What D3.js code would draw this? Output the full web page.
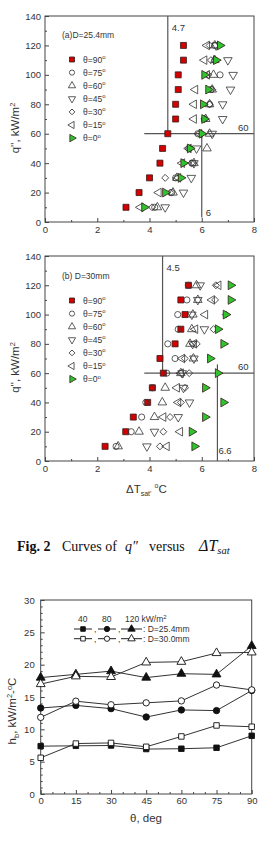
<!DOCTYPE html>
<html>
<head>
<meta charset="utf-8">
<script src="https://cdn.jsdelivr.net/npm/d3@7"></script>
<style>
body{margin:0;background:#fff}
svg{display:block}
text{font-family:"Liberation Sans",Arial,sans-serif;fill:#333}
.cap text, text.cap{font-family:"Liberation Serif","Times New Roman",serif;fill:#111}
</style>
</head>
<body>
<svg id="fig" width="259" height="843"></svg>
<script>
// heat flux levels q'' (kW/m2), same for both panels
var qFlux = [10,20,30,40,50,60,70,80,90,100,110,120];
var angleNames = ["90","75","60","45","30","15","0"];

// (a) D=25.4mm : wall superheat dT_sat (C) at each q'', one list per angle
var dTa_90 = [3.1,3.6,4.0,4.4,4.5,4.7,5.0,5.0,5.1,5.1,5.3,5.3];
var dTa_75 = [4.2,4.85,5.0,5.65,5.5,5.85,6.1,6.3,6.35,6.7,6.5,6.5];
var dTa_60 = [4.3,4.9,5.05,5.7,6.2,6.3,6.15,6.3,6.4,6.45,6.5,6.5];
var dTa_45 = [4.6,5.3,5.6,5.7,5.8,6.4,6.8,6.8,7.1,7.2,7.0,6.55];
var dTa_30 = [4.1,4.8,4.6,5.6,5.55,6.0,6.1,6.3,6.4,6.25,6.35,6.3];
var dTa_15 = [3.65,4.35,5.1,5.25,5.5,5.9,5.7,5.7,5.75,6.2,6.1,6.2];
var dTa_0  = [3.8,4.6,5.2,5.3,5.55,6.0,6.1,6.05,6.25,6.1,6.55,6.7];

// (b) D=30mm
var dTb_90 = [2.3,3.09,3.38,3.93,4.11,4.53,4.4,4.98,5.2,5.36,5.2,5.49];
var dTb_75 = [2.72,3.3,3.7,3.86,4.11,4.66,4.98,4.7,5.1,5.08,5.43,5.49];
var dTb_60 = [2.8,3.6,4.19,4.49,4.6,5.2,5.68,5.55,5.62,5.66,5.85,5.8];
var dTb_45 = [3.9,4.19,5.1,5.53,5.3,5.25,5.7,5.65,6.1,5.62,5.85,5.94];
var dTb_30 = [4.4,4.53,4.79,5.2,5.36,5.52,5.35,5.81,6.45,6.92,6.51,6.54];
var dTb_15 = [4.66,5.17,4.53,5.1,5.05,5.2,5.25,5.7,5.75,6.13,6.39,6.64];
var dTb_0  = [5.72,5.62,6.13,6.83,6.13,6.62,6.32,6.83,6.62,6.92,7.11,7.11];

// bottom: boiling coefficient h_b (kW/m2 C) vs inclination angle
var thetaDeg = [0,15,30,45,60,75,90];
var hb_40_254  = [7.4,7.45,7.5,6.95,7.0,7.15,9.0];
var hb_40_300  = [5.6,7.8,7.9,7.3,8.9,10.6,10.4];
var hb_80_254  = [13.3,13.7,13.2,11.9,13.0,12.9,16.0];
var hb_80_300  = [11.85,14.35,13.8,14.1,14.4,16.85,16.1];
var hb_120_254 = [18.0,18.5,19.0,18.0,18.6,18.5,22.9];
var hb_120_300 = [17.0,18.2,18.1,20.35,20.45,21.8,21.9];

var dtTicks = [0,2,4,6,8];
var qTicks = [0,20,40,60,80,100,120,140];
var thetaTicks = [0,15,30,45,60,75,90];
var hTicks = [0,5,10,15,20,25,30];

var svg = d3.select("#fig");
var RED = "#d40000", GREEN = "#2ec42e", INK = "#333";

// marker look per angle, same order as angleNames
var angleMarks = [
  {kind:"square", rot:0, fill:RED, size:36},
  {kind:"circle", rot:0, fill:"none", size:30},
  {kind:"tri", rot:0, fill:"none", size:32},
  {kind:"tri", rot:180, fill:"none", size:32},
  {kind:"square", rot:45, fill:"none", size:24},
  {kind:"tri", rot:-90, fill:"none", size:32},
  {kind:"tri", rot:90, fill:GREEN, size:34}
];

function symPath(kind, size){
  var t = kind=="circle" ? d3.symbolCircle : kind=="tri" ? d3.symbolTriangle : d3.symbolSquare;
  return d3.symbol().type(t).size(size)();
}

function styleAxis(ax){
  ax.select(".domain").remove();
  ax.selectAll(".tick line").attr("stroke","#444");
  ax.selectAll("text").attr("fill",INK).style("font-size","9.5px").attr("font-family",null);
}

function frame(x, y){
  svg.append("rect")
    .attr("x",x.range()[0]).attr("y",y.range()[1])
    .attr("width",x.range()[1]-x.range()[0]).attr("height",y.range()[0]-y.range()[1])
    .attr("fill","none").attr("stroke","#444").attr("stroke-width",1);
}

function qPanel(top, bottom, series, title, refs, legY){
  var x = d3.scaleLinear().domain([0,8]).range([45,254]);
  var y = d3.scaleLinear().domain([0,140]).range([bottom,top]);

  // minor ticks
  svg.append("g").attr("transform","translate(0,"+bottom+")")
    .call(d3.axisBottom(x).tickValues([1,3,5,7]).tickSize(-2).tickSizeOuter(0).tickFormat(""))
    .call(styleAxis);
  svg.append("g").attr("transform","translate(45,0)")
    .call(d3.axisLeft(y).tickValues(d3.range(10,140,20)).tickSize(-2).tickSizeOuter(0).tickFormat(""))
    .call(styleAxis);
  svg.append("g").attr("transform","translate(0,"+bottom+")")
    .call(d3.axisBottom(x).tickValues(dtTicks).tickSize(-4).tickSizeOuter(0).tickPadding(4))
    .call(styleAxis);
  svg.append("g").attr("transform","translate(45,0)")
    .call(d3.axisLeft(y).tickValues(qTicks).tickSize(-4).tickSizeOuter(0).tickPadding(4))
    .call(styleAxis);
  frame(x, y);

  // guide lines
  var ref = svg.append("g").attr("stroke","#555").attr("stroke-width",1.2);
  ref.append("line").attr("x1",x(refs.v1)).attr("x2",x(refs.v1)).attr("y1",y(140)).attr("y2",y(60));
  ref.append("line").attr("x1",x(3.8)).attr("x2",x(8)).attr("y1",y(60)).attr("y2",y(60));
  ref.append("line").attr("x1",x(refs.v2)).attr("x2",x(refs.v2)).attr("y1",y(refs.v2Top)).attr("y2",y(refs.v2Bot));
  var lab = svg.append("g").style("font-size","9.5px");
  lab.append("text").attr("x",x(refs.v1)+4).attr("y",y(140)+15).text(refs.v1);
  lab.append("text").attr("x",x(8)-16).attr("y",y(60)-3).text("60");
  lab.append("text").attr("x",x(refs.v2)+refs.v2dx).attr("y",refs.v2LabY).text(refs.v2);

  // data
  series.forEach(function(vals, k){
    var m = angleMarks[k];
    svg.append("g").selectAll("path").data(vals).join("path")
      .attr("d", symPath(m.kind, m.size))
      .attr("transform", function(d,i){ return "translate("+x(d)+","+y(qFlux[i])+") rotate("+m.rot+")"; })
      .attr("fill", m.fill).attr("stroke", m.fill=="none" ? "#333" : "#3a1a1a")
      .attr("stroke-width",0.8);
  });

  // legend
  var lg = svg.append("g");
  lg.append("text").attr("x",62).attr("y",legY).style("font-size","8.5px").text(title);
  angleNames.forEach(function(a, k){
    var m = angleMarks[k], yy = legY+21.5+k*13.1;
    lg.append("path").attr("d", symPath(m.kind, m.size*0.7))
      .attr("transform","translate(72,"+yy+") rotate("+m.rot+")")
      .attr("fill",m.fill).attr("stroke", m.fill=="none" ? "#333" : "#3a1a1a").attr("stroke-width",0.8);
    var t = lg.append("text").attr("x",83).attr("y",yy+3).style("font-size","8.5px");
    t.append("tspan").text("\u03b8="+a);
    t.append("tspan").attr("dy",-3.5).style("font-size","6px").text("o");
  });

  // y title
  var yt = svg.append("text").attr("transform","translate(19,"+((top+bottom)/2+9)+") rotate(-90)")
    .attr("text-anchor","middle").style("font-size","11.5px");
  yt.append("tspan").text("q'',  kW/m");
  yt.append("tspan").attr("dy",-4).style("font-size","7.5px").text("2");
}

qPanel(16, 222, [dTa_90,dTa_75,dTa_60,dTa_45,dTa_30,dTa_15,dTa_0], "(a)D=25.4mm",
  {v1:4.7, v2:6, v2Top:60, v2Bot:3, v2dx:4, v2LabY:216}, 38);
qPanel(256, 461, [dTb_90,dTb_75,dTb_60,dTb_45,dTb_30,dTb_15,dTb_0], "(b) D=30mm",
  {v1:4.5, v2:6.6, v2Top:66, v2Bot:0, v2dx:1, v2LabY:454}, 279);

// x title for the dT panels
var xt = svg.append("text").attr("x",126).attr("y",493).style("font-size","11.5px");
xt.append("tspan").text("\u0394T");
xt.append("tspan").attr("dy",3).style("font-size","7px").text("sat'");
xt.append("tspan").attr("dy",-3).text("  ");
xt.append("tspan").attr("dy",-5).style("font-size","7px").text("o");
xt.append("tspan").attr("dy",5).text("C");

// caption
var cap = svg.append("g").attr("class","cap").style("font-size","14px");
cap.append("text").attr("x",17).attr("y",551).attr("font-weight","bold").text("Fig.  2");
cap.append("text").attr("x",62).attr("y",551).text("Curves  of");
cap.append("text").attr("x",125).attr("y",551).attr("font-style","italic").text("q\u2033");
cap.append("text").attr("x",149).attr("y",551).text("versus");
var dts = cap.append("text").attr("x",199).attr("y",551).attr("font-style","italic").style("font-size","16px");
dts.append("tspan").text("\u0394T");
dts.append("tspan").attr("dy",3).style("font-size","10.5px").text("sat");

// bottom chart: h_b vs theta
var xT = d3.scaleLinear().domain([0,90]).range([40.7,251.7]);
var yH = d3.scaleLinear().domain([0,30]).range([794,600]);

svg.append("g").attr("transform","translate(0,794)")
  .call(d3.axisBottom(xT).tickValues(d3.range(5,90,5).filter(function(v){return v%15;})).tickSize(-2).tickSizeOuter(0).tickFormat(""))
  .call(styleAxis);
svg.append("g").attr("transform","translate(40.7,0)")
  .call(d3.axisLeft(yH).tickValues(d3.range(1,30,1).filter(function(v){return v%5;})).tickSize(-2).tickSizeOuter(0).tickFormat(""))
  .call(styleAxis);
svg.append("g").attr("transform","translate(0,794)")
  .call(d3.axisBottom(xT).tickValues(thetaTicks).tickSize(-4).tickSizeOuter(0).tickPadding(3))
  .call(styleAxis);
svg.append("g").attr("transform","translate(40.7,0)")
  .call(d3.axisLeft(yH).tickValues(hTicks).tickSize(-4).tickSizeOuter(0).tickPadding(6))
  .call(styleAxis);
frame(xT, yH);

var hbSeries = [
  {v:hb_40_254, kind:"square", fill:"#111", size:30},
  {v:hb_40_300, kind:"square", fill:"#fff", size:30},
  {v:hb_80_254, kind:"circle", fill:"#111", size:32},
  {v:hb_80_300, kind:"circle", fill:"#fff", size:32},
  {v:hb_120_254, kind:"tri", fill:"#111", size:34},
  {v:hb_120_300, kind:"tri", fill:"#fff", size:34}
];
var hLine = d3.line().x(function(d,i){return xT(thetaDeg[i]);}).y(function(d){return yH(d);});
hbSeries.forEach(function(s){
  svg.append("path").attr("d",hLine(s.v)).attr("fill","none").attr("stroke","#333").attr("stroke-width",1);
});
hbSeries.forEach(function(s){
  svg.append("g").selectAll("path").data(s.v).join("path")
    .attr("d",symPath(s.kind,s.size))
    .attr("transform",function(d,i){return "translate("+xT(thetaDeg[i])+","+yH(d)+")";})
    .attr("fill",s.fill).attr("stroke","#111").attr("stroke-width",0.9);
});

// legend of bottom chart
var hl = svg.append("g").style("font-size","8.5px");
hl.append("text").attr("x",78).attr("y",622).text("40");
hl.append("text").attr("x",102).attr("y",622).text("80");
var kt = hl.append("text").attr("x",125).attr("y",622);
kt.append("tspan").text("120 kW/m");
kt.append("tspan").attr("dy",-3.5).style("font-size","6px").text("2");
[629, 638.7].forEach(function(yy, r){
  [[74,92],[98,116],[121,142]].forEach(function(seg, c){
    var s = hbSeries[c*2+r];
    hl.append("line").attr("x1",seg[0]).attr("x2",seg[1]).attr("y1",yy).attr("y2",yy).attr("stroke","#222");
    hl.append("path").attr("d",symPath(s.kind,s.size*0.7))
      .attr("transform","translate("+((seg[0]+seg[1])/2)+","+yy+")")
      .attr("fill",s.fill).attr("stroke","#111").attr("stroke-width",0.9);
    if(c<2) hl.append("text").attr("x",seg[1]+2).attr("y",yy+3).text(",");
  });
  hl.append("text").attr("x",143).attr("y",yy+3).text(r==0 ? ": D=25.4mm" : ": D=30.0mm");
});

// axis titles
var ht = svg.append("text").attr("transform","translate(16,711) rotate(-90)")
  .attr("text-anchor","middle").style("font-size","11.5px");
ht.append("tspan").text("h");
ht.append("tspan").attr("dy",3).style("font-size","7.5px").text("b");
ht.append("tspan").attr("dy",-3).text(",  kW/m");
ht.append("tspan").attr("dy",-4).style("font-size","7.5px").text("2");
ht.append("tspan").attr("dy",4).text("-");
ht.append("tspan").attr("dy",-4).style("font-size","7.5px").text("o");
ht.append("tspan").attr("dy",4).text("C");

var tt = svg.append("text").attr("x",146).attr("y",822).attr("text-anchor","middle").style("font-size","11.5px");
tt.text("\u03b8,  deg");
</script>
</body>
</html>
